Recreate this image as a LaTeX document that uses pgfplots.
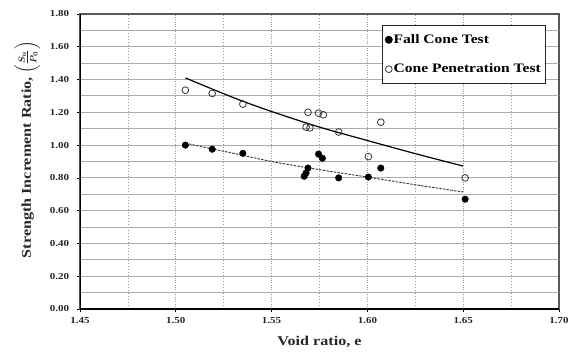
\documentclass[border=0pt]{standalone}
\usepackage{amsmath}
\usepackage{pgfplots}
\pgfplotsset{compat=1.18}
\usepackage{fontspec}
\setmainfont{Liberation Serif}
\newfontfamily\wideserif[FakeStretch=1.2]{Liberation Serif}
\begin{document}
\begin{tikzpicture}
\begin{axis}[
  scale only axis, width=479bp, height=295bp,
  xmin=1.45, xmax=1.70, ymin=0, ymax=1.80,
  xtick={1.45,1.50,...,1.70}, ytick={0,0.2,...,1.8},
  extra x ticks={1.475,1.525,1.575,1.625,1.675},
  extra y ticks={0.1,0.3,0.5,0.7,0.9,1.1,1.3,1.5,1.7},
  extra x tick labels={}, extra y tick labels={},
  extra x tick style={grid=major, major tick length=0pt, major grid style={gray!35, solid, line width=1pt}},
  extra y tick style={grid=major, major tick length=0pt, major grid style={gray!30, solid, line width=1pt}},
  major tick length=3.5pt, tick align=outside,
  tick style={black, line width=0.7pt},
  grid=major,
  x grid style={gray!80, dotted, line width=0.7pt},
  y grid style={gray!65, solid, line width=1pt},
  axis line style={draw=gray!70!black, line width=1.5pt},
  xtick pos=bottom, ytick pos=left,
  /pgf/number format/.cd, fixed, fixed zerofill, precision=2, assume math mode=true,
  /pgfplots/.cd,
  ticklabel style={font=\wideserif\bfseries\fontsize{9.2}{10}\selectfont, text=black!85},
  xticklabel style={yshift=-1pt},
  yticklabel style={xshift=-4pt},
  xlabel={\textbf{Void ratio, e}},
  ylabel={\textbf{Strength Increment Ratio, $\boldsymbol{\left(\frac{S_u}{P_0}\right)}$}},
  label style={font=\wideserif\fontsize{13.5}{15}\selectfont, text=black!85},
  xlabel style={at={(axis description cs:0.5,-0.112)}, anchor=center},
  ylabel style={at={(axis description cs:-0.11,0.54)}, anchor=center},
  legend style={at={(0.63,0.963)}, anchor=north west, draw=black!85, line width=1.3pt,
    font=\wideserif\bfseries\fontsize{13}{14}\selectfont, row sep=15pt, inner xsep=3pt, inner ysep=7pt,
    legend cell align=left, nodes={inner xsep=1.5pt}},
  legend image code/.code={\draw[#1] plot coordinates {(0pt,0pt)};},
]
\draw[black, line width=1.3pt] (axis cs:1.45,1.8) -- (axis cs:1.45,0) -- (axis cs:1.70,0);
% trend lines
\addplot[black, line width=1.2pt, smooth, forget plot] coordinates {
 (1.505,1.41) (1.53,1.29) (1.55,1.205) (1.575,1.11) (1.60,1.028) (1.625,0.948) (1.65,0.872)};
\addplot[black!80, dash pattern=on 2.5pt off 1.2pt, line width=0.9pt, smooth, forget plot] coordinates {
 (1.505,1.012) (1.53,0.95) (1.55,0.90) (1.575,0.85) (1.60,0.805) (1.625,0.758) (1.65,0.714)};
% Fall Cone Test
\addplot[only marks, mark=*, mark size=3.3pt, mark options={fill=black, draw=black}] coordinates {
 (1.505,1.00) (1.519,0.975) (1.535,0.95) (1.569,0.86) (1.568,0.83) (1.567,0.81)
 (1.5745,0.945) (1.5765,0.92) (1.585,0.80) (1.6005,0.805) (1.607,0.86) (1.651,0.67)};
\addlegendentry{Fall Cone Test}
% Cone Penetration Test
\addplot[only marks, mark=o, mark size=3.4pt, mark options={draw=black!80, fill=white, line width=0.8pt}] coordinates {
 (1.505,1.335) (1.519,1.315) (1.535,1.25) (1.569,1.20) (1.568,1.11) (1.570,1.105)
 (1.5745,1.195) (1.577,1.185) (1.585,1.08) (1.6005,0.93) (1.607,1.14) (1.651,0.80)};
\addlegendentry{Cone Penetration Test}
\end{axis}
\path[use as bounding box] (-80bp,-42bp) rectangle (495bp,309bp);
\end{tikzpicture}
\end{document}
